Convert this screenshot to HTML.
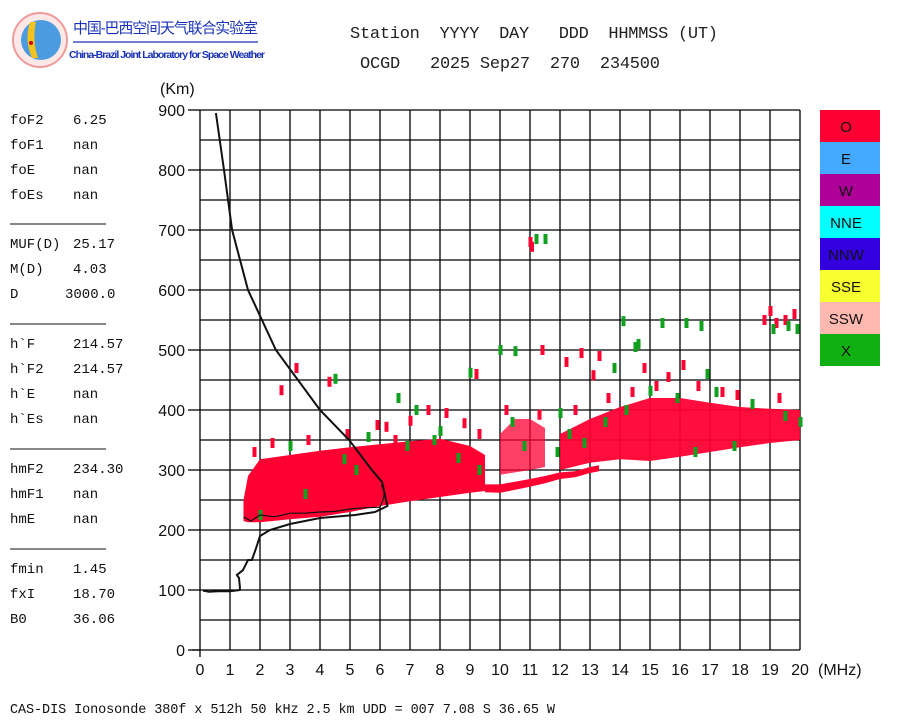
<!DOCTYPE html>
<html><head><meta charset="utf-8"><style>
html,body{margin:0;padding:0;background:#fff;}
svg{display:block;}
.mono{font-family:"Liberation Mono","Noto Sans CJK SC",monospace;}
.sans{font-family:"Liberation Sans","Noto Sans CJK SC",sans-serif;}
</style></head><body>
<svg id="chart" width="900" height="720" viewBox="0 0 900 720" xmlns="http://www.w3.org/2000/svg">
<g>
  <circle cx="40" cy="40" r="27" fill="#fde8e8" stroke="#f29a9a" stroke-width="2"/>
  <circle cx="41" cy="40" r="20" fill="#4b9be0"/>
  <path d="M30 22 Q24 40 32 58 L38 58 Q32 40 36 22 Z" fill="#f4c21c"/>
  <circle cx="31" cy="43" r="2" fill="#c00"/>
  <text x="73" y="33" class="sans" font-size="15" fill="#1a33b8" textLength="185">中国-巴西空间天气联合实验室</text>
  <line x1="73" y1="42" x2="258" y2="42" stroke="#1a33b8" stroke-width="1.3"/>
  <text x="69" y="58" class="sans" font-size="10.5" font-weight="bold" fill="#1a33b8" textLength="196">China-Brazil Joint Laboratory for Space Weather</text>
</g>
<g class="mono" font-size="17" fill="#222">
  <text x="350" y="38" xml:space="preserve" textLength="368">Station  YYYY  DAY   DDD  HHMMSS (UT)</text>
  <text x="360" y="68" xml:space="preserve" textLength="300">OCGD   2025 Sep27  270  234500</text>
</g>
<g id="params" class="mono" font-size="14" fill="#111"></g>
<g id="plot"></g>
<g id="legend"></g>
<text x="10" y="713" class="mono" font-size="13.5" fill="#111" textLength="545">CAS-DIS Ionosonde 380f x 512h 50 kHz 2.5 km UDD = 007 7.08 S 36.65 W</text>
</svg>
<script>
// ---- data ----
const xTicks = [0,1,2,3,4,5,6,7,8,9,10,11,12,13,14,15,16,17,18,19,20];
const yTicks = [0,100,200,300,400,500,600,700,800,900];
const band1F  = [1.45,1.6,2,3,4,5,6,7,8,9,9.5];
const band1Lo = [215,213,213,218,222,230,240,248,255,262,265];
const band1Hi = [250,290,318,325,332,338,343,348,352,340,325];
const band2F  = [9.5,10,11,11.5,12,12.5,13,13.3];
const band2Lo = [263,262,272,278,285,288,295,298];
const band2Hi = [276,276,285,290,296,298,305,308];
const band3F  = [10,10.5,11,11.5];
const band3Lo = [292,296,300,305];
const band3Hi = [360,385,385,370];
const band4F  = [12,13,14,15,16,17,18,19,20];
const band4Lo = [300,312,318,315,322,330,338,345,350];
const band4Hi = [360,385,405,420,420,412,405,402,400];
const redF = [2.7,3.2,4.3,6.5,9.2,11.0,11.05,11.4,12.2,12.7,13.1,13.3,14.8,16.1,18.8,19.0,19.2,19.5,19.8,8.2,7.6,5.9,17.4,15.6,1.8,2.4,3.6,4.9,6.2,7.0,8.8,9.3,10.2,11.3,12.5,13.6,14.4,15.2,16.6,17.9,19.3];
const redH = [433,470,447,350,460,680,672,500,480,495,458,490,470,475,550,565,545,550,560,395,400,375,430,455,330,345,350,360,372,382,378,360,400,392,400,420,430,440,440,425,420];
const greenF = [4.5,6.6,7.2,9.0,10.0,10.5,11.2,11.5,14.1,14.5,14.6,15.4,16.2,16.7,19.1,19.6,19.9,13.8,16.9,2.0,3.5,5.2,6.9,8.6,10.8,12.3,13.5,14.2,15.9,17.2,18.4,19.5,20.0,11.9,9.3,12.8,17.8,16.5,4.8,7.8,3.0,5.6,8.0,10.4,12.0,15.0];
const greenH = [452,420,400,462,500,498,685,685,548,505,510,545,545,540,535,540,535,470,460,225,260,300,340,320,340,360,380,400,420,430,410,390,380,330,300,345,340,330,318,350,340,355,365,380,395,432];
const profF = [0.1,0.3,0.6,1.0,1.33,1.33,1.3,1.23,1.43,1.6,1.73,1.87,2.0,2.33,3.0,4.0,5.17,5.83,6.25,6.2,6.07,5.73,4.97,4.0,2.53,1.6,1.07,0.8,0.53];
const profH = [99,97,98,98,100,105,120,125,133,150,150,170,190,200,210,220,225,230,240,250,280,300,350,400,500,600,700,800,895];
const vtF = [1.45,1.7,2.0,2.5,3.0,3.5,4.0,4.5,5.0,5.5,6.0,6.1,6.15,6.05];
const vtH = [222,215,225,222,228,228,230,231,235,237,238,250,262,275];
const paramLabels = ["foF2","foF1","foE","foEs","MUF(D)","M(D)","D","h`F","h`F2","h`E","h`Es","hmF2","hmF1","hmE","fmin","fxI","B0"];
const paramValues = ["6.25","nan","nan","nan","25.17"," 4.03","3000.0","214.57","214.57","nan","nan","234.30","nan","nan","1.45","18.70","36.06"];
const legendNames = ["O","E","W","NNE","NNW","SSE","SSW","X"];
const legendColors = ["#ff0033","#44aaff","#b0009a","#00ffff","#3300e0","#f8ff30","#ffb8b0","#10b010"];

const X0=200, X1=800, Y0=650, Y1=110;
const xs = f => X0 + (f/20)*(X1-X0);
const ys = h => Y0 - (h/900)*(Y0-Y1);
const NS="http://www.w3.org/2000/svg";
function mk(tag, attrs, parent){const e=document.createElementNS(NS,tag);for(const k in attrs)e.setAttribute(k,attrs[k]);parent.appendChild(e);return e;}
const plot=document.getElementById('plot');

for(let f=1; f<=20; f++){
  const l=mk('line',{x1:xs(f),y1:Y1,x2:xs(f),y2:Y0,stroke:'#000','stroke-width':1.3},plot);
  
  
}
for(let h=50; h<=900; h+=50){
  const l=mk('line',{x1:X0,y1:ys(h),x2:X1,y2:ys(h),stroke:'#000','stroke-width':1.3},plot);
  
  
}
const yax=mk('line',{x1:X0,y1:Y1,x2:X0,y2:Y0+7,stroke:'#000','stroke-width':1.3},plot);


const xax=mk('line',{x1:X0-8,y1:Y0,x2:X1,y2:Y0,stroke:'#000','stroke-width':1.3},plot);


yTicks.forEach(h=>{
  const t=mk('line',{x1:X0-12,y1:ys(h),x2:X0,y2:ys(h),stroke:'#000','stroke-width':1.3},plot);
  
  
  const tx=mk('text',{x:X0-15,y:ys(h)+6,'text-anchor':'end','font-size':16,class:'sans',fill:'#111'},plot);
  tx.textContent=h;
  
  
});
xTicks.forEach(f=>{
  const tx=mk('text',{x:xs(f),y:675,'text-anchor':'middle','font-size':16,class:'sans',fill:'#111'},plot);
  tx.textContent=f;
  
  
});
const xt=mk('text',{x:818,y:675,'font-size':16,class:'sans',fill:'#111'},plot);
xt.textContent='(MHz)';


const yt=mk('text',{x:160,y:94,'font-size':16,class:'sans',fill:'#111'},plot);
yt.textContent='(Km)';



function band(F,Lo,Hi,name,op){
  let pts=[];
  for(let i=0;i<F.length;i++) pts.push(xs(F[i])+','+ys(Hi[i]));
  for(let i=F.length-1;i>=0;i--) pts.push(xs(F[i])+','+ys(Lo[i]));
  const p=mk('polygon',{points:pts.join(' '),fill:'#ff0033','fill-opacity':op},plot);
  
  
}
band(band1F,band1Lo,band1Hi,'o-trace-low-band',1);
band(band2F,band2Lo,band2Hi,'o-trace-thin-band',1);
band(band3F,band3Lo,band3Hi,'o-trace-mid-band',0.75);
band(band4F,band4Lo,band4Hi,'o-trace-high-band',0.95);

redF.forEach((f,i)=>{
  const r=mk('rect',{x:xs(f)-1.5,y:ys(redH[i])-5,width:4,height:10,fill:'#ff0033'},plot);
  
  
});
greenF.forEach((f,i)=>{
  const r=mk('rect',{x:xs(f)-1.5,y:ys(greenH[i])-5,width:4,height:10,fill:'#10a020'},plot);
  
  
});

const vt=mk('polyline',{points:vtF.map((f,i)=>xs(f)+','+ys(vtH[i])).join(' '),fill:'none',stroke:'#111','stroke-width':1.2},plot);


const pr=mk('polyline',{points:profF.map((f,i)=>xs(f)+','+ys(profH[i])).join(' '),fill:'none',stroke:'#111','stroke-width':2},plot);



const lg=document.getElementById('legend');
legendNames.forEach((n,i)=>{
  const r=mk('rect',{x:820,y:110+i*32,width:60,height:32,fill:legendColors[i]},lg);
  
  
  const t=mk('text',{x:846,y:132+i*32,'text-anchor':'middle','font-size':15,class:'sans',fill:'#111'},lg);
  t.textContent=n;
  
  
});

const pg=document.getElementById('params');
const rowY=[124,149,174,199,248,273,298,348,373,398,423,473,498,523,573,598,623];
const sepY=[224,324,449,549];
paramLabels.forEach((l,i)=>{
  const a=mk('text',{x:10,y:rowY[i]},pg);
  a.textContent=l;
  
  
  const b=mk('text',{x:l==='D'?65:73,y:rowY[i],'xml:space':'preserve'},pg);
  b.textContent=paramValues[i];
  
  
});
sepY.forEach(y=>{
  const s=mk('line',{x1:10,y1:y,x2:106,y2:y,stroke:'#111','stroke-width':1},pg);
  
  
});
</script>
</body></html>
